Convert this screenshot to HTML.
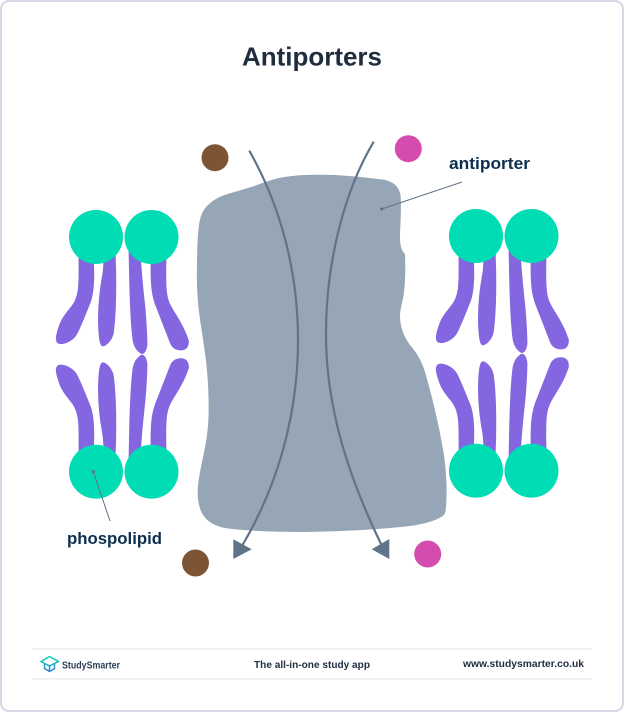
<!DOCTYPE html>
<html>
<head>
<meta charset="utf-8">
<style>
html,body{margin:0;padding:0;background:#fff;width:624px;height:712px;overflow:hidden}
svg{display:block}
text{font-family:"Liberation Sans",sans-serif;font-weight:bold}
</style>
</head>
<body>
<svg width="624" height="712" viewBox="0 0 624 712" xmlns="http://www.w3.org/2000/svg">
<defs>
<linearGradient id="lg" gradientUnits="userSpaceOnUse" x1="0" y1="656" x2="0" y2="672"><stop offset="0" stop-color="#00dcb3"/><stop offset="1" stop-color="#2a7fd6"/></linearGradient>
<g id="tails" fill="#8566e1" stroke="#8566e1" stroke-width="0.8" stroke-linejoin="round">
<path d="M79,250 L93,250 C94,270 95,290 90,303 C85,315 81,326 76.700,334 C72,342 62,345 58,343 C55,341 56,335 60,324 C63,316 69,310 72,306 C79,297 79,285 79,270 Z"/>
<path d="M104,250 L115,250 C116,270 116,290 115.500,305 C115,318 114,328 113.300,333 C112,340 106,346 102.500,346 C100,345 99,338 98.500,325 C98,305 100,290 103,273 C104,265 104,258 104,250 Z"/>
<path d="M129,250 L140,250 C141,270 143,290 145,308 C146,320 147,335 147,345 C146,351 144,354 141.500,353.500 C137,351 134,346 133,340 C131,325 130,300 129.500,275 Z"/>
<path d="M151,255 L166,255 C166,270 165,285 167,295 C168,303 173,310 176,315 C181,323 186,333 188.500,341 C188.500,348 185,350 181,350 C176,350 172,348 170,342 C166,332 160,316 156,306 C152,296 151,285 151,270 Z"/>
</g>
<g id="half">
<use href="#tails"/>
<circle cx="96" cy="237" r="27" fill="#00dcb3"/>
<circle cx="151.500" cy="237" r="27" fill="#00dcb3"/>
</g>
</defs>

<rect x="1" y="1" width="622" height="710" rx="8" fill="#fff" stroke="#d5d9e6" stroke-width="2"/>

<text x="312" y="65.500" font-size="26" fill="#1f2d3f" text-anchor="middle" textLength="140" lengthAdjust="spacingAndGlyphs">Antiporters</text>

<!-- left phospholipids -->
<use href="#half"/>
<use href="#half" transform="matrix(1 0 0 -1 0 708.700)"/>
<!-- right phospholipids -->
<use href="#half" transform="translate(380 -1)"/>
<use href="#half" transform="matrix(1 0 0 -1 380 707.700)"/>

<!-- protein -->
<path fill="#96a6b6" d="M197,262 C197.500,240 198,225 201,216 C204,207 212,200 223,195.500 C235,191.500 246,189 257,185 C268,181 276,178 288,176.500 C300,174.500 320,174.500 335,175 C352,176 372,178 385,180 C394,182 399,187 400.500,195 C401.500,205 400.500,222 400,235 C400,245 401,250 405,254 C405.500,265 405.500,280 404,292 C403,302 400,308 400,316 C400,327 404,337 410,345 C417,353 422,362 425,372 C432,396 439,425 444,455 C446,470 447,485 446.500,498 C446,507 446,512 444,515 C438,520 425,524 410,526 C385,529 345,531.500 305,532 C275,532 245,531 225,528 C212,525.500 204,519 200.500,510 C197,500 197,490 199,478 C201,465 205,450 207,435 C209,420 209,405 208,385 C207,360 202,335 199,312 C197,295 196.500,280 197,262 Z"/>

<!-- curved arrows -->
<path d="M249.300,150.700 C280,205 298,270 298,340 C298,420 275,490 242.500,545" fill="none" stroke="#5f7488" stroke-width="2.200"/>
<path d="M233.300,539.300 L251.700,549.300 L233.300,559 Z" fill="#5f7488"/>
<path d="M373.700,141.700 C345,190 326,260 326,335 C326,410 350,480 381.500,545" fill="none" stroke="#5f7488" stroke-width="2.200"/>
<path d="M389.300,539 L371.700,549.300 L389.300,559 Z" fill="#5f7488"/>

<!-- particles -->
<circle cx="215" cy="157.700" r="13.500" fill="#7d5535"/>
<circle cx="408.300" cy="148.700" r="13.500" fill="#d44cad"/>
<circle cx="195.500" cy="563" r="13.500" fill="#7d5535"/>
<circle cx="427.700" cy="554" r="13.500" fill="#d44cad"/>

<!-- leaders -->
<line x1="381.700" y1="209" x2="462" y2="182" stroke="#5f7488" stroke-width="1"/>
<circle cx="381.700" cy="209" r="1.600" fill="#5f7488"/>
<line x1="93.300" y1="471.700" x2="110" y2="521" stroke="#5f7488" stroke-width="1"/>
<circle cx="93.300" cy="471.700" r="1.600" fill="#5f7488"/>

<text x="449" y="169" font-size="17" fill="#0c2e4f" textLength="81" lengthAdjust="spacingAndGlyphs">antiporter</text>
<text x="67" y="544" font-size="17" fill="#0c2e4f" textLength="95" lengthAdjust="spacingAndGlyphs">phospolipid</text>

<!-- footer -->
<rect x="32" y="648" width="560" height="1.700" fill="#eff0f5"/>
<rect x="32" y="678" width="560" height="1.700" fill="#eff0f5"/>
<g fill="none" stroke="url(#lg)" stroke-width="1.500" stroke-linejoin="round">
<path d="M41,661.500 L49.500,656.500 L58.500,661.500 L49.500,666 Z"/>
<path d="M44.500,664 L44.500,668.500 L49.500,671.500 L54.500,668.500 L54.500,664"/>
<path d="M49.500,666 L49.500,671"/>
</g>
<text x="62" y="668.500" font-size="10.500" fill="#2b3f55" textLength="58" lengthAdjust="spacingAndGlyphs">StudySmarter</text>
<text x="254" y="668" font-size="10.500" fill="#1f2d3f" textLength="116" lengthAdjust="spacingAndGlyphs">The all-in-one study app</text>
<text x="463" y="667" font-size="10.500" fill="#1f2d3f" textLength="121" lengthAdjust="spacingAndGlyphs">www.studysmarter.co.uk</text>
</svg>
</body>
</html>
